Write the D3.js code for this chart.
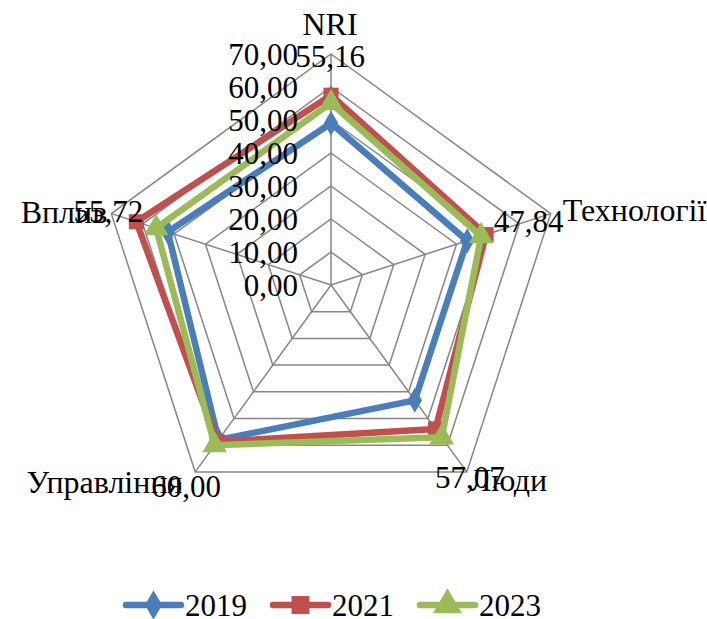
<!DOCTYPE html>
<html>
<head>
<meta charset="utf-8">
<script src="https://cdn.jsdelivr.net/npm/d3@7"></script>
<style>
  html, body { margin: 0; padding: 0; background: #ffffff; }
  svg { display: block; }
  text { font-family: "Liberation Serif", "Times New Roman", serif; fill: #000; }
</style>
</head>
<body>
<script>
// Radar chart data
const categories = ["NRI", "Технології", "Люди", "Управління", "Вплив"];
const seriesNames = ["2019", "2021", "2023"];
const values2019 = [49.0, 43.4, 43.2, 58.0, 52.0];
const values2021 = [57.5, 49.4, 53.9, 58.7, 62.0];
const values2023 = [55.16, 47.84, 57.07, 60.00, 55.72];
const tickValues = [0, 10, 20, 30, 40, 50, 60, 70];

const seriesValues = [values2019, values2021, values2023];
const colors = ["#4a7ebb", "#c0504d", "#9bbb59"];
const markerTypes = [d3.symbolDiamond, d3.symbolSquare, d3.symbolTriangle];
const markerSizes = [180, 230, 260];

const W = 707, H = 619;
const cx = 331, cy = 285;
const svg = d3.select("body").append("svg").attr("width", W).attr("height", H);

const r = d3.scaleLinear().domain([0, 70]).range([0, 231]);
const angle = d3.scaleLinear().domain([0, categories.length]).range([0, 2 * Math.PI]);
const fmt = v => d3.format(".2f")(v).replace(".", ",");

const pt = (i, v) => [cx + r(v) * Math.sin(angle(i)), cy - r(v) * Math.cos(angle(i))];

const g = svg.append("g");

// grid rings
const ring = d3.line().curve(d3.curveLinearClosed);
tickValues.filter(t => t > 0).forEach(t => {
  g.append("path")
    .attr("d", ring(categories.map((c, i) => pt(i, t))))
    .attr("fill", "none").attr("stroke", "#868686").attr("stroke-width", 1.5);
});
// spokes
categories.forEach((c, i) => {
  const [x, y] = pt(i, 70);
  g.append("line").attr("x1", cx).attr("y1", cy).attr("x2", x).attr("y2", y)
    .attr("stroke", "#868686").attr("stroke-width", 1.5);
});

// series
const radial = d3.lineRadial()
  .angle((d, i) => angle(i))
  .radius(d => r(d))
  .curve(d3.curveLinearClosed);

seriesValues.forEach((vals, s) => {
  const sg = svg.append("g");
  sg.append("path")
    .attr("transform", `translate(${cx},${cy})`)
    .attr("d", radial(vals))
    .attr("fill", "none").attr("stroke", colors[s]).attr("stroke-width", 6.5)
    .attr("stroke-linejoin", "round");
  vals.forEach((v, i) => {
    const [x, y] = pt(i, v);
    sg.append("path")
      .attr("transform", `translate(${x},${y})`)
      .attr("d", d3.symbol().type(markerTypes[s]).size(markerSizes[s])())
      .attr("fill", colors[s]);
  });
});

// tick labels on the vertical axis
svg.append("g").selectAll("text").data(tickValues).join("text")
  .attr("x", cx - 33).attr("y", t => cy - r(t))
  .attr("text-anchor", "end").attr("dominant-baseline", "central")
  .attr("font-size", 31)
  .text(t => fmt(t));

// category labels
const catPlace = [
  { anchor: "middle", dx: -1, dy: -30 },
  { anchor: "start", dx: 12, dy: -4 },
  { anchor: "start", dx: 3, dy: 8 },
  { anchor: "end", dx: -13, dy: 10 },
  { anchor: "end", dx: -4, dy: -2 }
];
categories.forEach((c, i) => {
  const [x, y] = pt(i, 70);
  svg.append("text")
    .attr("x", x + catPlace[i].dx).attr("y", y + catPlace[i].dy)
    .attr("text-anchor", catPlace[i].anchor).attr("dominant-baseline", "central")
    .attr("font-size", 32).text(c);
});

// value labels of the latest series
const valPlace = [
  { dx: -1, dy: 2 },
  { dx: -22, dy: 8 },
  { dx: 3, dy: 6 },
  { dx: -9, dy: 15 },
  { dx: -3, dy: -2 }
];
values2023.forEach((v, i) => {
  const [x, y] = pt(i, 70);
  svg.append("text")
    .attr("x", x + valPlace[i].dx).attr("y", y + valPlace[i].dy)
    .attr("text-anchor", "middle").attr("dominant-baseline", "central")
    .attr("font-size", 31).text(fmt(v));
});

// legend
const legendX = [126, 273, 420];
const legendY = 605;
const lg = svg.append("g");
seriesNames.forEach((name, s) => {
  const x0 = legendX[s];
  lg.append("line").attr("x1", x0).attr("x2", x0 + 55).attr("y1", legendY).attr("y2", legendY)
    .attr("stroke", colors[s]).attr("stroke-width", 6.5).attr("stroke-linecap", "round");
  lg.append("path")
    .attr("transform", `translate(${x0 + 27.5},${legendY})`)
    .attr("d", d3.symbol().type(markerTypes[s]).size(markerSizes[s] * 1.4)())
    .attr("fill", colors[s]);
  lg.append("text").attr("x", x0 + 59).attr("y", legendY)
    .attr("dominant-baseline", "central").attr("font-size", 31).text(name);
});
</script>
</body>
</html>
